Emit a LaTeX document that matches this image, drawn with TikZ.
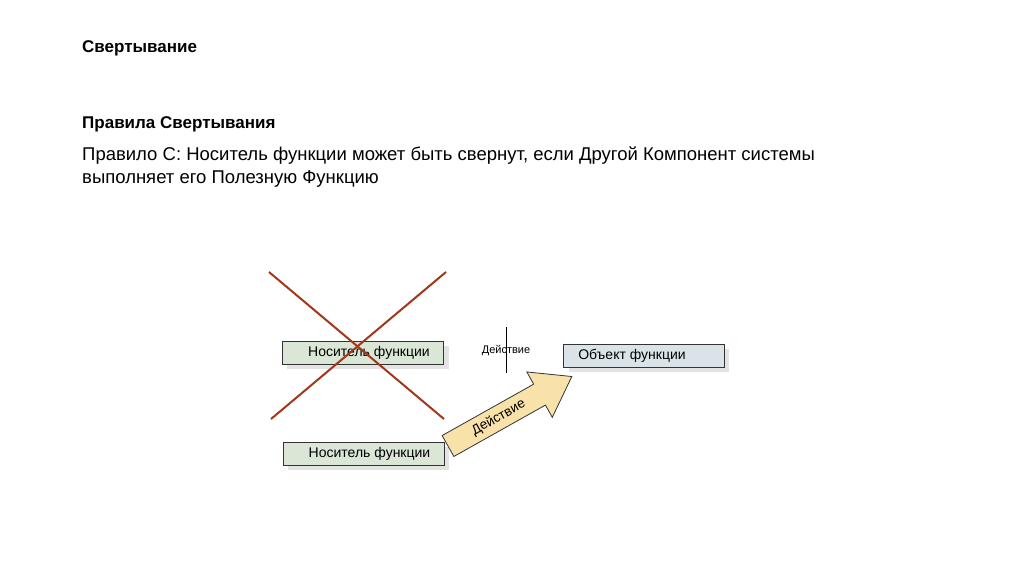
\documentclass[tikz,border=0pt]{standalone}
\usepackage{fontspec}
\setmainfont{Liberation Sans}
\begin{document}
\begin{tikzpicture}[x=1pt,y=-1pt,
  box/.style={draw=black!80,line width=0.8pt,minimum width=161pt,minimum height=23pt,inner sep=0pt,font=\fontsize{14}{15}\selectfont},
  carrier/.style={box,fill={rgb,255:red,218;green,230;blue,214}},
  obj/.style={box,fill={rgb,255:red,218;green,228;blue,232}},
  shadow/.style={fill=gray!22,draw=none},
  cross/.style={draw={rgb,255:red,160;green,56;blue,28},line width=2pt}]
\useasboundingbox (0,0) rectangle (1024,574);
\node[anchor=west,inner sep=0pt,font=\bfseries\fontsize{17}{20}\selectfont] (t1) at (82,48) {Свертывание};
\node[anchor=west,inner sep=0pt,font=\bfseries\fontsize{17}{20}\selectfont] (t2) at (82,124) {Правила Свертывания};
\node[anchor=north west,align=left,inner sep=0pt,font=\fontsize{18.5}{23}\selectfont] (t3) at (82,147) {Правило С: Носитель функции может быть свернут, если Другой Компонент системы\\выполняет его Полезную Функцию};
% shadows
\fill[shadow] (287,364) rectangle (449,369);
\fill[shadow] (444,346) rectangle (449,369);
\fill[shadow] (288,465) rectangle (449,470);
\fill[shadow] (444,447) rectangle (449,470);
\fill[shadow] (569,367) rectangle (729,372);
\fill[shadow] (724,349) rectangle (729,372);
\node[carrier] (n1) at (363,352.5) {\hspace*{12pt}Носитель функции};
\node[carrier] (n2) at (363.5,453.5) {\hspace*{12pt}Носитель функции};
\node[obj] (o) at (644,355.5) {Объект функции\hspace*{24pt}};
% cross
\coordinate (c1) at (269,272); \coordinate (c2) at (444,419);
\coordinate (c3) at (446,272); \coordinate (c4) at (271,419);
\draw[cross] (c1) -- (c2); \draw[cross] (c3) -- (c4);
% action label
\coordinate (v1) at (506,327); \coordinate (v2) at (506,373);
\draw[black,line width=0.8pt] (v1) -- (v2);
\node[font=\fontsize{11}{13}\selectfont] (a1) at (506,351) {Действие};
% block arrow
\begin{scope}[shift={(448,446)},rotate=29.3]
\draw[fill={rgb,255:red,248;green,226;blue,170},draw=black!80,line width=0.8pt]
 (0,-12) -- (105,-12) -- (105,-26) -- (142,0) -- (105,26) -- (105,12) -- (0,12) -- cycle;
\node[rotate=29.3,inner sep=0pt,font=\fontsize{13.5}{14}\selectfont] (a2) at (58,0) {Действие};
\end{scope}
\end{tikzpicture}
\end{document}
